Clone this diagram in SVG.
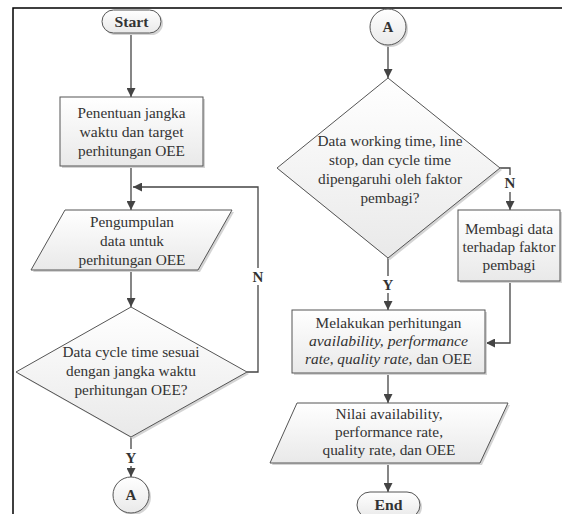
<svg xmlns="http://www.w3.org/2000/svg" width="562" height="514" viewBox="0 0 562 514">
<defs>
<linearGradient id="g" x1="0" y1="0" x2="0" y2="1">
<stop offset="0" stop-color="#ffffff"/>
<stop offset="1" stop-color="#e9e9e9"/>
</linearGradient>
<marker id="arr" viewBox="0 0 10 10" refX="10" refY="5" markerWidth="9" markerHeight="9" markerUnits="userSpaceOnUse" orient="auto">
<path d="M0,0 L10,5 L0,10 z" fill="#444"/>
</marker>
</defs>
<rect width="562" height="514" fill="#fff"/>
<path d="M13,514 L13,8 L562,8" stroke="#000" stroke-width="1.5" fill="none"/>

<g id="connectors" fill="none" stroke="#444" stroke-width="1.3">
<path d="M131,33 L131,97" marker-end="url(#arr)"/>
<path d="M131,166 L131,210" marker-end="url(#arr)"/>
<path d="M247,372 L258,372 L258,187 L133,187" marker-end="url(#arr)"/>
<path d="M131,270 L131,307" marker-end="url(#arr)"/>
<path d="M131,437 L131,449"/>
<path d="M131,466 L131,477" marker-end="url(#arr)"/>
<path d="M388,45 L388,78" marker-end="url(#arr)"/>
<path d="M500,168 L510,168 L510,175"/>
<path d="M510,192 L510,210" marker-end="url(#arr)"/>
<path d="M388,258 L388,276"/>
<path d="M388,293 L388,310" marker-end="url(#arr)"/>
<path d="M510,281 L510,343 L486,343" marker-end="url(#arr)"/>
<path d="M388,373 L388,403" marker-end="url(#arr)"/>
<path d="M388,463 L388,492" marker-end="url(#arr)"/>
<rect x="251" y="268" width="14" height="17" fill="#fff" stroke="none"/>
</g>
<g id="connector-labels">
<text font-family="Liberation Serif" font-size="15" font-weight="bold" fill="#333" text-anchor="middle" x="258" y="282">N</text>
<text font-family="Liberation Serif" font-size="15" font-weight="bold" fill="#333" text-anchor="middle" x="131" y="463">Y</text>
<text font-family="Liberation Serif" font-size="15" font-weight="bold" fill="#333" text-anchor="middle" x="510" y="188">N</text>
<text font-family="Liberation Serif" font-size="15" font-weight="bold" fill="#333" text-anchor="middle" x="388" y="290">Y</text>
</g>

<g id="start">
<rect fill="#d4d4d4" x="104" y="12" width="59" height="23" rx="11.5"/>
<rect fill="url(#g)" stroke="#555" x="102" y="10" width="59" height="23" rx="11.5"/>
<text font-family="Liberation Serif" font-size="15" font-weight="bold" fill="#333" text-anchor="middle" x="131.5" y="27" textLength="34" lengthAdjust="spacingAndGlyphs">Start</text>
</g>

<g id="penentuan">
<rect fill="#d4d4d4" x="62" y="99" width="143" height="69"/>
<rect fill="url(#g)" stroke="#555" x="60" y="97" width="143" height="69"/>
<text font-family="Liberation Serif" font-size="15" fill="#333" text-anchor="middle" x="131.5" y="118" textLength="108" lengthAdjust="spacingAndGlyphs">Penentuan jangka</text>
<text font-family="Liberation Serif" font-size="15" fill="#333" text-anchor="middle" x="131.5" y="137" textLength="104" lengthAdjust="spacingAndGlyphs">waktu  dan target</text>
<text font-family="Liberation Serif" font-size="15" fill="#333" text-anchor="middle" x="131.5" y="156" textLength="107" lengthAdjust="spacingAndGlyphs">perhitungan OEE</text>
</g>

<g id="pengumpulan">
<polygon fill="#d4d4d4" points="67,212 234,212 200,272 33,272"/>
<polygon fill="url(#g)" stroke="#555" points="65,210 232,210 198,270 31,270"/>
<text font-family="Liberation Serif" font-size="15" fill="#333" text-anchor="middle" x="132" y="227" textLength="84" lengthAdjust="spacingAndGlyphs">Pengumpulan</text>
<text font-family="Liberation Serif" font-size="15" fill="#333" text-anchor="middle" x="132" y="246" textLength="64" lengthAdjust="spacingAndGlyphs">data untuk</text>
<text font-family="Liberation Serif" font-size="15" fill="#333" text-anchor="middle" x="132" y="265" textLength="107" lengthAdjust="spacingAndGlyphs">perhitungan OEE</text>
</g>

<g id="decision1">
<polygon fill="#d4d4d4" points="133,309 249,374 133,439 18,374"/>
<polygon fill="url(#g)" stroke="#555" points="131,307 247,372 131,437 16,372"/>
<text font-family="Liberation Serif" font-size="15" fill="#333" text-anchor="middle" x="131" y="357" textLength="137" lengthAdjust="spacingAndGlyphs">Data cycle time sesuai</text>
<text font-family="Liberation Serif" font-size="15" fill="#333" text-anchor="middle" x="131" y="376" textLength="130" lengthAdjust="spacingAndGlyphs">dengan jangka waktu</text>
<text font-family="Liberation Serif" font-size="15" fill="#333" text-anchor="middle" x="131" y="395" textLength="113" lengthAdjust="spacingAndGlyphs">perhitungan OEE?</text>
</g>

<g id="connectorA1">
<circle fill="#d4d4d4" cx="133" cy="497" r="18"/>
<circle fill="url(#g)" stroke="#555" cx="131" cy="495" r="18"/>
<text font-family="Liberation Serif" font-size="15" font-weight="bold" fill="#333" text-anchor="middle" x="131" y="500">A</text>
</g>

<g id="connectorA2">
<circle fill="#d4d4d4" cx="390" cy="29" r="18"/>
<circle fill="url(#g)" stroke="#555" cx="388" cy="27" r="18"/>
<text font-family="Liberation Serif" font-size="15" font-weight="bold" fill="#333" text-anchor="middle" x="388" y="32">A</text>
</g>

<g id="decision2">
<polygon fill="#d4d4d4" points="390,80 502,170 390,260 279,170"/>
<polygon fill="url(#g)" stroke="#555" points="388,78 500,168 388,258 277,168"/>
<text font-family="Liberation Serif" font-size="15" fill="#333" text-anchor="middle" x="390" y="146" textLength="145" lengthAdjust="spacingAndGlyphs">Data working time, line</text>
<text font-family="Liberation Serif" font-size="15" fill="#333" text-anchor="middle" x="390" y="165" textLength="122" lengthAdjust="spacingAndGlyphs">stop, dan cycle time</text>
<text font-family="Liberation Serif" font-size="15" fill="#333" text-anchor="middle" x="390" y="184" textLength="144" lengthAdjust="spacingAndGlyphs">dipengaruhi oleh faktor</text>
<text font-family="Liberation Serif" font-size="15" fill="#333" text-anchor="middle" x="390" y="203" textLength="59" lengthAdjust="spacingAndGlyphs">pembagi?</text>
</g>

<g id="membagi">
<rect fill="#d4d4d4" x="460" y="212" width="102" height="71"/>
<rect fill="url(#g)" stroke="#555" x="458" y="210" width="102" height="71"/>
<text font-family="Liberation Serif" font-size="15" fill="#333" text-anchor="middle" x="509" y="234" textLength="88" lengthAdjust="spacingAndGlyphs">Membagi data</text>
<text font-family="Liberation Serif" font-size="15" fill="#333" text-anchor="middle" x="509" y="252" textLength="93" lengthAdjust="spacingAndGlyphs">terhadap faktor</text>
<text font-family="Liberation Serif" font-size="15" fill="#333" text-anchor="middle" x="509" y="270" textLength="53" lengthAdjust="spacingAndGlyphs">pembagi</text>
</g>

<g id="melakukan">
<rect fill="#d4d4d4" x="294" y="312" width="193" height="63"/>
<rect fill="url(#g)" stroke="#555" x="292" y="310" width="193" height="63"/>
<text font-family="Liberation Serif" font-size="15" fill="#333" text-anchor="middle" x="388.5" y="328" textLength="146" lengthAdjust="spacingAndGlyphs">Melakukan perhitungan</text>
<text font-family="Liberation Serif" font-size="15" font-style="italic" fill="#333" text-anchor="middle" x="388.5" y="346" textLength="159" lengthAdjust="spacingAndGlyphs">availability, performance</text>
<text font-family="Liberation Serif" font-size="15" fill="#333" text-anchor="middle" x="388.5" y="364" textLength="167" lengthAdjust="spacingAndGlyphs"><tspan font-style="italic">rate</tspan>, <tspan font-style="italic">quality rate</tspan>, dan OEE</text>
</g>

<g id="nilai">
<polygon fill="#d4d4d4" points="299,405 510,405 482,465 272,465"/>
<polygon fill="url(#g)" stroke="#555" points="297,403 508,403 480,463 270,463"/>
<text font-family="Liberation Serif" font-size="15" fill="#333" text-anchor="middle" x="389" y="419" textLength="107" lengthAdjust="spacingAndGlyphs">Nilai availability,</text>
<text font-family="Liberation Serif" font-size="15" fill="#333" text-anchor="middle" x="389" y="437" textLength="108" lengthAdjust="spacingAndGlyphs">performance rate,</text>
<text font-family="Liberation Serif" font-size="15" fill="#333" text-anchor="middle" x="389" y="455" textLength="133" lengthAdjust="spacingAndGlyphs">quality rate, dan OEE</text>
</g>

<g id="end">
<rect fill="#d4d4d4" x="359" y="494" width="63" height="26" rx="13"/>
<rect fill="url(#g)" stroke="#555" x="357" y="492" width="63" height="26" rx="13"/>
<text font-family="Liberation Serif" font-size="15" font-weight="bold" fill="#333" text-anchor="middle" x="388.5" y="510" textLength="28" lengthAdjust="spacingAndGlyphs">End</text>
</g>
</svg>
